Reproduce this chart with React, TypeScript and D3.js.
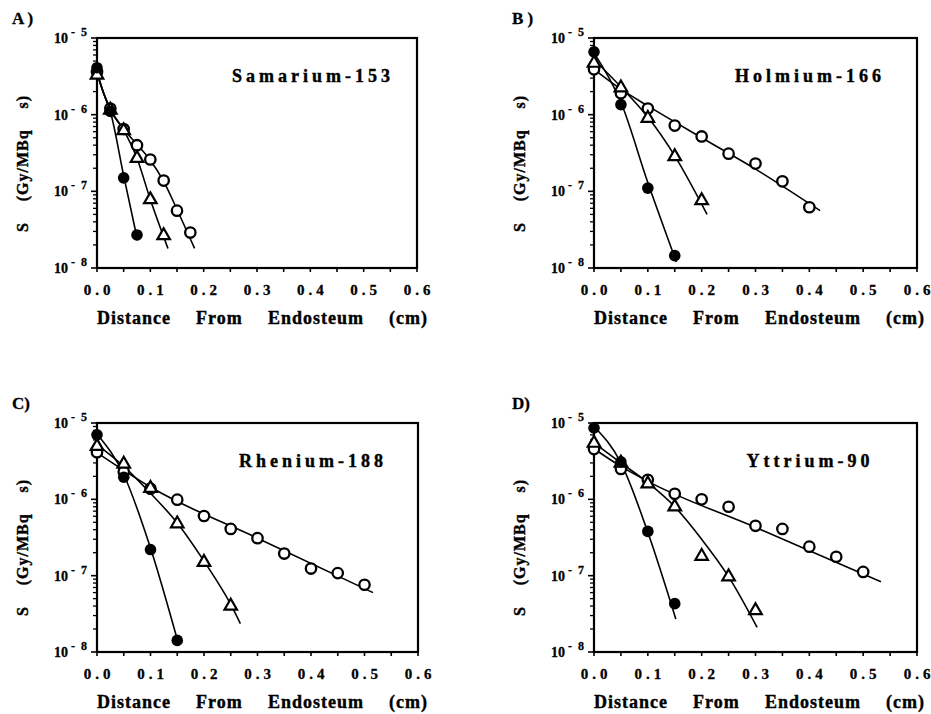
import React, { useEffect, useRef } from 'react';
import * as d3 from 'd3';

type Pt = [number, number];

// axis ticks
const xTicks = [0, 0.1, 0.2, 0.3, 0.4, 0.5, 0.6];
const xMinorTicks = [0.05, 0.15, 0.25, 0.35, 0.45, 0.55];
const yDecades = [1e-5, 1e-6, 1e-7, 1e-8];
const yExponents = ['5', '6', '7', '8'];

const panelLetters = ['A )', 'B )', 'C)', 'D)'];
const panelNames = ['Samarium-153', 'Holmium-166', 'Rhenium-188', 'Yttrium-90'];

// Samarium-153  [distance cm, S Gy/MBq s]
const smFilled: Pt[] = [[0, 4.1e-6], [0.025, 1.1e-6], [0.05, 1.5e-7], [0.075, 2.7e-8]];
const smTriangle: Pt[] = [[0, 3.3e-6], [0.025, 1.15e-6], [0.05, 6.2e-7], [0.075, 2.7e-7], [0.1, 7.8e-8], [0.125, 2.65e-8]];
const smOpen: Pt[] = [[0, 3.6e-6], [0.025, 1.2e-6], [0.05, 6.5e-7], [0.075, 4.0e-7], [0.1, 2.6e-7], [0.125, 1.38e-7], [0.15, 5.6e-8], [0.175, 2.9e-8]];
const smFilledFit: Pt[] = [[0, 3.6e-6], [0.0125, 1.9e-6], [0.025, 1.1e-6], [0.05, 1.6e-7], [0.076, 2.3e-8]];
const smTriangleFit: Pt[] = [[0, 3.5e-6], [0.0125, 1.9e-6], [0.025, 1.15e-6], [0.05, 6.3e-7], [0.075, 2.7e-7], [0.1, 7.8e-8], [0.133, 1.8e-8]];
const smOpenFit: Pt[] = [[0, 3.5e-6], [0.0125, 1.9e-6], [0.025, 1.2e-6], [0.05, 6.5e-7], [0.075, 4.1e-7], [0.1, 2.55e-7], [0.125, 1.35e-7], [0.15, 5.8e-8], [0.183, 1.8e-8]];

// Holmium-166
const hoFilled: Pt[] = [[0, 6.6e-6], [0.05, 1.35e-6], [0.1, 1.1e-7], [0.15, 1.45e-8]];
const hoTriangle: Pt[] = [[0, 4.7e-6], [0.05, 2.25e-6], [0.1, 9.0e-7], [0.15, 2.85e-7], [0.2, 7.6e-8]];
const hoOpen: Pt[] = [[0, 3.9e-6], [0.05, 1.9e-6], [0.1, 1.2e-6], [0.15, 7.2e-7], [0.2, 5.2e-7], [0.25, 3.1e-7], [0.3, 2.3e-7], [0.35, 1.35e-7], [0.4, 6.2e-8]];
const hoFilledFit: Pt[] = [[0, 6.4e-6], [0.05, 1.45e-6], [0.1, 1.3e-7], [0.153, 1.2e-8]];
const hoTriangleFit: Pt[] = [[0, 5.2e-6], [0.05, 2.3e-6], [0.1, 9.3e-7], [0.15, 2.9e-7], [0.21, 5.0e-8]];
const hoOpenFit: Pt[] = [[0, 3.9e-6], [0.05, 2.15e-6], [0.1, 1.3e-6], [0.2, 5.0e-7], [0.3, 1.95e-7], [0.42, 5.6e-8]];

// Rhenium-188
const reFilled: Pt[] = [[0, 7.0e-6], [0.05, 1.95e-6], [0.1, 2.2e-7], [0.15, 1.42e-8]];
const reTriangle: Pt[] = [[0, 4.95e-6], [0.05, 2.9e-6], [0.1, 1.4e-6], [0.15, 4.8e-7], [0.2, 1.5e-7], [0.25, 4.0e-8]];
const reOpen: Pt[] = [[0, 4.15e-6], [0.05, 2.3e-6], [0.1, 1.38e-6], [0.15, 9.9e-7], [0.2, 6.05e-7], [0.25, 4.1e-7], [0.3, 3.1e-7], [0.35, 1.95e-7], [0.4, 1.24e-7], [0.45, 1.08e-7], [0.5, 7.6e-8]];
const reFilledFit: Pt[] = [[0, 7.2e-6], [0.05, 2.1e-6], [0.1, 2.3e-7], [0.152, 1.3e-8]];
const reTriangleFit: Pt[] = [[0, 5.2e-6], [0.05, 2.7e-6], [0.1, 1.2e-6], [0.15, 4.9e-7], [0.2, 1.55e-7], [0.25, 4.2e-8], [0.268, 2.35e-8]];
const reOpenFit: Pt[] = [[0, 4.1e-6], [0.05, 2.4e-6], [0.1, 1.45e-6], [0.3, 3.1e-7], [0.516, 6.0e-8]];

// Yttrium-90
const yFilled: Pt[] = [[0, 8.6e-6], [0.05, 3.1e-6], [0.1, 3.8e-7], [0.15, 4.3e-8]];
const yTriangle: Pt[] = [[0, 5.45e-6], [0.05, 3.0e-6], [0.1, 1.6e-6], [0.15, 8.0e-7], [0.2, 1.8e-7], [0.25, 9.7e-8], [0.3, 3.5e-8]];
const yOpen: Pt[] = [[0, 4.55e-6], [0.05, 2.5e-6], [0.1, 1.8e-6], [0.15, 1.18e-6], [0.2, 1.0e-6], [0.25, 8.0e-7], [0.3, 4.5e-7], [0.35, 4.1e-7], [0.4, 2.4e-7], [0.45, 1.77e-7], [0.5, 1.12e-7]];
const yFilledFit: Pt[] = [[0, 9.0e-6], [0.05, 3.0e-6], [0.1, 3.7e-7], [0.152, 2.7e-8]];
const yTriangleFit: Pt[] = [[0, 5.5e-6], [0.05, 3.0e-6], [0.1, 1.65e-6], [0.15, 8.0e-7], [0.2, 3.0e-7], [0.25, 9.7e-8], [0.303, 2.1e-8]];
const yOpenFit: Pt[] = [[0, 4.6e-6], [0.05, 2.7e-6], [0.1, 1.72e-6], [0.3, 4.3e-7], [0.533, 8.3e-8]];

// plot boxes (pixels)
const boxes = [
    { left: 97, top: 38, right: 417, bottom: 268 },
    { left: 594, top: 38, right: 917, bottom: 268 },
    { left: 97, top: 423, right: 418, bottom: 652 },
    { left: 594, top: 423, right: 917, bottom: 652 },
];

const panels = [
    { filled: smFilled, triangle: smTriangle, open: smOpen, filledFit: smFilledFit, triangleFit: smTriangleFit, openFit: smOpenFit },
    { filled: hoFilled, triangle: hoTriangle, open: hoOpen, filledFit: hoFilledFit, triangleFit: hoTriangleFit, openFit: hoOpenFit },
    { filled: reFilled, triangle: reTriangle, open: reOpen, filledFit: reFilledFit, triangleFit: reTriangleFit, openFit: reOpenFit },
    { filled: yFilled, triangle: yTriangle, open: yOpen, filledFit: yFilledFit, triangleFit: yTriangleFit, openFit: yOpenFit },
];

const FONT = "'Liberation Serif', 'Times New Roman', 'DejaVu Serif', serif";

// stretch a text to a target length by widening only the word gaps
function fitWords(sel, target) {
    const node = sel.node();
    const words = sel.text().split(' ').length - 1;
    const len = node.getComputedTextLength();
    sel.attr('word-spacing', Math.max(0, (target - len) / words));
}

const App = () => {
    const svgRef = useRef();

    useEffect(() => {
        const root = d3.select(svgRef.current);
        root.selectAll('*').remove();
        root.append('rect').attr('width', 931).attr('height', 714).attr('fill', '#fff');

        panels.forEach((p, i) => {
            const b = boxes[i];
            const g = root.append('g')
                .style('font-family', FONT)
                .attr('font-weight', 'bold');

            const x = d3.scaleLinear().domain([0, 0.6]).range([b.left, b.right]);
            const y = d3.scaleLog().domain([1e-8, 1e-5]).range([b.bottom, b.top]);

            // frame
            g.append('rect')
                .attr('x', b.left).attr('y', b.top)
                .attr('width', b.right - b.left).attr('height', b.bottom - b.top)
                .attr('fill', 'none').attr('stroke', '#000').attr('stroke-width', 2.2);

            // y ticks (outward)
            const minor = [];
            [1e-6, 1e-7, 1e-8].forEach(d => { for (let k = 2; k <= 9; k++) minor.push(d * k); });
            g.append('g').selectAll('line').data(minor).enter().append('line')
                .attr('x1', b.left - 4).attr('x2', b.left)
                .attr('y1', d => y(d)).attr('y2', d => y(d))
                .attr('stroke', '#000').attr('stroke-width', 1.3);
            g.append('g').selectAll('line').data(yDecades).enter().append('line')
                .attr('x1', b.left - 6).attr('x2', b.left)
                .attr('y1', d => y(d)).attr('y2', d => y(d))
                .attr('stroke', '#000').attr('stroke-width', 1.6);

            // x ticks (outward)
            g.append('g').selectAll('line').data(xTicks.concat(xMinorTicks)).enter().append('line')
                .attr('x1', d => x(d)).attr('x2', d => x(d))
                .attr('y1', b.bottom).attr('y2', b.bottom + 4)
                .attr('stroke', '#000').attr('stroke-width', 1.6);

            // y tick labels 10^-n
            yDecades.forEach((d, k) => {
                g.append('text')
                    .attr('x', b.left - 29).attr('y', y(d) + 5)
                    .attr('text-anchor', 'end')
                    .attr('font-size', 14)
                    .attr('stroke', '#000').attr('stroke-width', 0.3)
                    .text('10');
                g.append('text')
                    .attr('x', b.left - 26).attr('y', y(d) - 2)
                    .attr('font-size', 12)
                    .attr('stroke', '#000').attr('stroke-width', 0.3)
                    .attr('xml:space', 'preserve')
                    .style('white-space', 'pre')
                    .text('-  ' + yExponents[k]);
            });

            // x tick labels
            g.append('g').selectAll('text').data(xTicks).enter().append('text')
                .attr('x', d => x(d) + 2).attr('y', b.bottom + 27)
                .attr('text-anchor', 'middle')
                .attr('font-size', 15)
                .attr('letter-spacing', 4)
                .attr('stroke', '#000').attr('stroke-width', 0.3)
                .text(d => d3.format('.1f')(d));

            // axis titles
            const xt = g.append('text')
                .attr('x', b.left).attr('y', b.bottom + 56)
                .attr('font-size', 18)
                .attr('letter-spacing', 1)
                .attr('stroke', '#000').attr('stroke-width', 0.4)
                .text('Distance From Endosteum (cm)');
            fitWords(xt, 331);

            const yt = g.append('text')
                .attr('transform', `translate(${b.left - 69},${b.bottom - 36}) rotate(-90)`)
                .attr('font-size', 16)
                .attr('letter-spacing', 1)
                .attr('stroke', '#000').attr('stroke-width', 0.4)
                .text('S (Gy/MBq s)');
            fitWords(yt, 137);

            // panel letter and nuclide name
            g.append('text')
                .attr('x', b.left - (i % 2 === 0 ? 85 : 82)).attr('y', b.top - 14)
                .attr('font-size', 17)
                .attr('stroke', '#000').attr('stroke-width', 0.3)
                .attr('xml:space', 'preserve')
                .style('white-space', 'pre')
                .text(panelLetters[i]);
            g.append('text')
                .attr('x', b.left + 214 + 2).attr('y', b.top + 44)
                .attr('text-anchor', 'middle')
                .attr('font-size', 18)
                .attr('letter-spacing', 4)
                .attr('stroke', '#000').attr('stroke-width', 0.4)
                .text(panelNames[i]);

            // fitted curves
            const line = d3.line()
                .x(d => x(d[0]))
                .y(d => y(d[1]))
                .curve(d3.curveMonotoneX);
            [p.openFit, p.triangleFit, p.filledFit].forEach(fit => {
                g.append('path')
                    .datum(fit)
                    .attr('fill', 'none')
                    .attr('stroke', '#000')
                    .attr('stroke-width', 1.6)
                    .attr('d', line);
            });

            // markers
            g.append('g').selectAll('circle').data(p.open).enter().append('circle')
                .attr('cx', d => x(d[0])).attr('cy', d => y(d[1]))
                .attr('r', 5.2)
                .attr('fill', '#fff').attr('stroke', '#000').attr('stroke-width', 2.3);

            const tri = d3.symbol().type(d3.symbolTriangle).size(68);
            g.append('g').selectAll('path').data(p.triangle).enter().append('path')
                .attr('transform', d => `translate(${x(d[0])},${y(d[1])})`)
                .attr('d', tri)
                .attr('fill', '#fff').attr('stroke', '#000').attr('stroke-width', 2.2);

            g.append('g').selectAll('circle').data(p.filled).enter().append('circle')
                .attr('cx', d => x(d[0])).attr('cy', d => y(d[1]))
                .attr('r', 5.8)
                .attr('fill', '#000');
        });
    }, []);

    return (
        <svg ref={svgRef} width={931} height={714}
            style={{ position: 'absolute', left: 0, top: 0, display: 'block' }} />
    );
};

export default App;
